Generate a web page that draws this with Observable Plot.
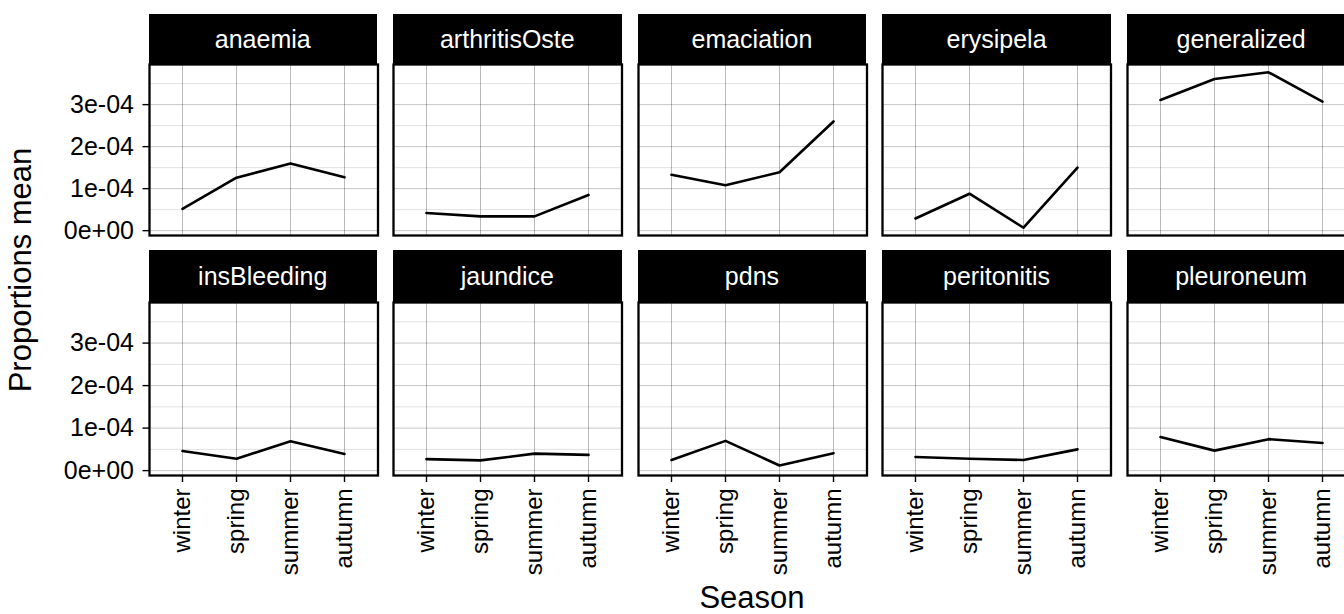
<!DOCTYPE html>
<html><head><meta charset="utf-8">
<script src="https://cdn.jsdelivr.net/npm/d3@7"></script>
<script src="https://cdn.jsdelivr.net/npm/@observablehq/plot@0.6"></script>
<style>
html,body{margin:0;padding:0;background:#fff;}
#chart{position:relative;width:1344px;height:614px;overflow:hidden;font-family:"Liberation Sans",Arial,Helvetica,sans-serif;}
.strip{position:absolute;background:#000;color:#fff;font-size:25px;display:flex;align-items:center;justify-content:center;white-space:nowrap;}
.panel{position:absolute;}
.panel svg{overflow:visible;display:block;max-width:none;}
.title{position:absolute;font-size:31px;color:#000;white-space:nowrap;line-height:1;}
</style></head><body><div id="chart"></div>
<script>
// ---- data ----
const seasons = ["winter", "spring", "summer", "autumn"];
const diseases = ["anaemia", "arthritisOste", "emaciation", "erysipela", "generalized",
                  "insBleeding", "jaundice", "pdns", "peritonitis", "pleuroneum"];
const anaemia       = [0.52e-4, 1.26e-4, 1.60e-4, 1.27e-4];
const arthritisOste = [0.42e-4, 0.34e-4, 0.34e-4, 0.85e-4];
const emaciation    = [1.33e-4, 1.08e-4, 1.39e-4, 2.60e-4];
const erysipela     = [0.29e-4, 0.88e-4, 0.07e-4, 1.50e-4];
const generalized   = [3.11e-4, 3.61e-4, 3.77e-4, 3.07e-4];
const insBleeding   = [0.46e-4, 0.28e-4, 0.69e-4, 0.39e-4];
const jaundice      = [0.27e-4, 0.24e-4, 0.40e-4, 0.37e-4];
const pdns          = [0.25e-4, 0.70e-4, 0.12e-4, 0.41e-4];
const peritonitis   = [0.32e-4, 0.28e-4, 0.25e-4, 0.50e-4];
const pleuroneum    = [0.79e-4, 0.47e-4, 0.74e-4, 0.65e-4];
const yTicks = [0, 1e-4, 2e-4, 3e-4];
const yTickLabels = ["0e+00", "1e-04", "2e-04", "3e-04"];
const yMinorTicks = [0.5e-4, 1.5e-4, 2.5e-4, 3.5e-4];
const xTitle = "Season";
const yTitle = "Proportions mean";

const series = [anaemia, arthritisOste, emaciation, erysipela, generalized,
                insBleeding, jaundice, pdns, peritonitis, pleuroneum];

// shared y domain with ggplot-like 5% expansion
const allVals = series.flat();
const vmin = d3.min(allVals), vmax = d3.max(allVals);
const pad = 0.05 * (vmax - vmin);
const yDomain = [vmin - pad, vmax + pad];

// ---- layout ----
const chart = document.getElementById("chart");
const colLeft0 = 148.5, colStep = 244.6, panelW = 228.5;
const rowTop = [14, 250], stripH = [50, 52], panelH = [171, 173];
const font = '"Liberation Sans", Arial, Helvetica, sans-serif';

diseases.forEach((name, i) => {
  const c = i % 5, r = Math.floor(i / 5);
  const left = colLeft0 + c * colStep;
  const strip = document.createElement("div");
  strip.className = "strip";
  strip.style.left = left + "px";
  strip.style.top = rowTop[r] + "px";
  strip.style.width = panelW + "px";
  strip.style.height = stripH[r] + "px";
  strip.textContent = name;
  chart.appendChild(strip);

  const rows = seasons.map((s, j) => ({season: s, value: series[i][j]}));
  const marks = [
    Plot.gridY(yMinorTicks, {stroke: "#000", strokeOpacity: 0.12, strokeWidth: 1}),
    Plot.gridY(yTicks, {stroke: "#000", strokeOpacity: 0.22, strokeWidth: 1}),
    Plot.gridX(seasons, {stroke: "#000", strokeOpacity: 0.27, strokeWidth: 1}),
    Plot.line(rows, {x: "season", y: "value", stroke: "#000", strokeWidth: 2.6}),
    Plot.frame({stroke: "#000", strokeWidth: 2.3})
  ];
  if (c === 0) marks.push(Plot.axisY(yTicks, {
    tickSize: 6.5, tickPadding: 9, fontSize: 25, stroke: "#000", strokeWidth: 1.4, label: null,
    tickFormat: d => yTickLabels[yTicks.indexOf(d)]
  }));
  if (r === 1) marks.push(Plot.axisX(seasons, {
    tickSize: 7, tickPadding: 6, tickRotate: -90, fontSize: 24, stroke: "#000", strokeWidth: 1.4, label: null
  }));
  const p = Plot.plot({
    width: panelW, height: panelH[r], margin: 0,
    style: {overflow: "visible", fontFamily: font, color: "#000", background: "transparent", maxWidth: "none"},
    x: {type: "point", domain: seasons, padding: 0.6, axis: null},
    y: {domain: yDomain, axis: null},
    marks
  });
  const holder = document.createElement("div");
  holder.className = "panel";
  holder.style.left = left + "px";
  holder.style.top = (rowTop[r] + stripH[r]) + "px";
  holder.style.width = panelW + "px";
  holder.style.height = panelH[r] + "px";
  holder.appendChild(p);
  chart.appendChild(holder);
});

// axis titles
const xt = document.createElement("div");
xt.className = "title";
xt.textContent = xTitle;
xt.style.left = "752px";
xt.style.top = "582px";
xt.style.transform = "translateX(-50%)";
chart.appendChild(xt);

const yt = document.createElement("div");
yt.className = "title";
yt.textContent = yTitle;
yt.style.left = "20px";
yt.style.top = "270px";
yt.style.transform = "translate(-50%,-50%) rotate(-90deg)";
chart.appendChild(yt);
</script>
</body></html>
